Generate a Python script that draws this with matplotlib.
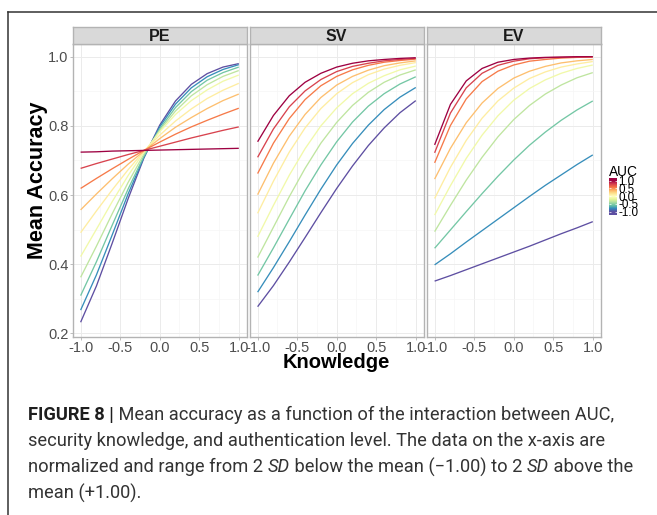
import matplotlib
matplotlib.use("Agg")
import matplotlib.pyplot as plt
import numpy as np
from matplotlib.lines import Line2D
from matplotlib.colors import Normalize

plt.rcParams['font.family'] = ['Liberation Sans', 'DejaVu Sans']

W, H = 657, 515

# ---------------- data ----------------
knowledge = [-1.0, -0.8, -0.6, -0.4, -0.2, 0.0, 0.2, 0.4, 0.6, 0.8, 1.0]
auc_levels = [1.0, 0.78, 0.56, 0.33, 0.11, -0.11, -0.33, -0.56, -0.78, -1.0]
panel_names = ["PE", "SV", "EV"]

pe_acc = [
    [0.724, 0.725, 0.727, 0.728, 0.729, 0.730, 0.731, 0.732, 0.733, 0.734, 0.735],
    [0.677, 0.691, 0.704, 0.717, 0.729, 0.741, 0.753, 0.765, 0.776, 0.787, 0.797],
    [0.619, 0.648, 0.676, 0.703, 0.729, 0.753, 0.776, 0.797, 0.816, 0.834, 0.851],
    [0.557, 0.603, 0.647, 0.689, 0.727, 0.763, 0.796, 0.824, 0.850, 0.873, 0.892],
    [0.491, 0.554, 0.615, 0.673, 0.726, 0.773, 0.814, 0.849, 0.879, 0.903, 0.923],
    [0.422, 0.501, 0.581, 0.656, 0.724, 0.783, 0.833, 0.873, 0.904, 0.929, 0.947],
    [0.362, 0.452, 0.546, 0.636, 0.718, 0.787, 0.843, 0.887, 0.919, 0.943, 0.960],
    [0.309, 0.407, 0.513, 0.617, 0.712, 0.791, 0.853, 0.899, 0.932, 0.954, 0.970],
    [0.267, 0.369, 0.485, 0.603, 0.709, 0.797, 0.863, 0.910, 0.942, 0.963, 0.977],
    [0.232, 0.337, 0.461, 0.589, 0.707, 0.802, 0.872, 0.920, 0.951, 0.970, 0.980],
]
sv_acc = [
    [0.754, 0.830, 0.887, 0.926, 0.952, 0.970, 0.981, 0.988, 0.992, 0.995, 0.997],
    [0.709, 0.791, 0.855, 0.901, 0.934, 0.957, 0.972, 0.981, 0.988, 0.992, 0.995],
    [0.662, 0.750, 0.821, 0.876, 0.916, 0.943, 0.962, 0.975, 0.984, 0.989, 0.993],
    [0.601, 0.692, 0.770, 0.833, 0.882, 0.918, 0.943, 0.961, 0.974, 0.982, 0.988],
    [0.547, 0.640, 0.724, 0.794, 0.850, 0.893, 0.925, 0.948, 0.964, 0.975, 0.983],
    [0.479, 0.570, 0.657, 0.734, 0.800, 0.852, 0.893, 0.923, 0.945, 0.962, 0.973],
    [0.419, 0.507, 0.595, 0.677, 0.750, 0.810, 0.859, 0.897, 0.926, 0.947, 0.962],
    [0.367, 0.447, 0.530, 0.612, 0.687, 0.754, 0.811, 0.857, 0.893, 0.921, 0.942],
    [0.319, 0.390, 0.465, 0.542, 0.617, 0.687, 0.749, 0.802, 0.847, 0.883, 0.911],
    [0.277, 0.338, 0.406, 0.477, 0.549, 0.619, 0.684, 0.743, 0.794, 0.838, 0.873],
]
ev_acc = [
    [0.745, 0.862, 0.930, 0.966, 0.984, 0.992, 0.996, 0.998, 0.999, 1.000, 1.000],
    [0.722, 0.837, 0.910, 0.952, 0.975, 0.987, 0.994, 0.997, 0.998, 0.999, 1.000],
    [0.693, 0.801, 0.878, 0.928, 0.958, 0.976, 0.987, 0.992, 0.996, 0.998, 0.999],
    [0.646, 0.735, 0.809, 0.866, 0.908, 0.938, 0.958, 0.972, 0.982, 0.988, 0.992],
    [0.590, 0.680, 0.758, 0.822, 0.872, 0.909, 0.937, 0.956, 0.970, 0.979, 0.986],
    [0.542, 0.627, 0.706, 0.773, 0.829, 0.874, 0.908, 0.933, 0.952, 0.966, 0.976],
    [0.494, 0.570, 0.643, 0.709, 0.768, 0.818, 0.859, 0.892, 0.918, 0.939, 0.954],
    [0.446, 0.499, 0.552, 0.604, 0.654, 0.701, 0.744, 0.782, 0.816, 0.846, 0.872],
    [0.398, 0.430, 0.464, 0.497, 0.530, 0.563, 0.596, 0.628, 0.658, 0.688, 0.716],
    [0.351, 0.367, 0.384, 0.401, 0.418, 0.435, 0.452, 0.470, 0.488, 0.505, 0.523],
]

x_ticks = [-1.0, -0.5, 0.0, 0.5, 1.0]
x_tick_labels = ["-1.0", "-0.5", "0.0", "0.5", "1.0"]
y_ticks = [0.2, 0.4, 0.6, 0.8, 1.0]
y_tick_labels = ["0.2", "0.4", "0.6", "0.8", "1.0"]
cbar_ticks = [-1.0, -0.5, 0.0, 0.5, 1.0]
cbar_labels = ["-1.0", "-0.5", "0.0", "0.5", "1.0"]

caption_lines = [
    [("FIGURE 8 |", "bold", "normal"),
     (" Mean accuracy as a function of the interaction between AUC,", "normal", "normal")],
    [("security knowledge, and authentication level. The data on the x-axis are", "normal", "normal")],
    [("normalized and range from 2 ", "normal", "normal"), ("SD", "normal", "italic"),
     (" below the mean (\u22121.00) to 2 ", "normal", "normal"), ("SD", "normal", "italic"),
     (" above the", "normal", "normal")],
    [("mean (+1.00).", "normal", "normal")],
]

# ---------------- figure ----------------
fig = plt.figure(figsize=(W / 100, H / 100), dpi=100)
fig.patch.set_facecolor("white")


def rect(l, t, w, h):
    return [l / W, 1 - (t + h) / H, w / W, h / H]


cmap = plt.get_cmap("Spectral_r")
norm = Normalize(-1, 1)

panel_data = [pe_acc, sv_acc, ev_acc]
lefts = [72.7, 249.7, 426.7]
pw, ptop, ph = 174, 44, 293
border = "#b3b3b3"

for i, (name, data, left) in enumerate(zip(panel_names, panel_data, lefts)):
    ax = fig.add_axes(rect(left, ptop, pw, ph))
    ax.set_xlim(-1.1, 1.1)
    ax.set_ylim(0.1894, 1.0367)
    ax.set_xticks(x_ticks)
    ax.set_xticklabels(x_tick_labels)
    ax.set_xticks([-0.75, -0.25, 0.25, 0.75], minor=True)
    ax.set_yticks(y_ticks)
    ax.set_yticks([0.3, 0.5, 0.7, 0.9], minor=True)
    ax.set_axisbelow(True)
    ax.grid(which="major", color="#ebebeb", lw=0.7)
    ax.grid(which="minor", color="#f5f5f5", lw=0.45)
    ax.tick_params(which="minor", length=0)
    ax.tick_params(which="major", length=2.5, width=0.6, color=border,
                   labelsize=10.5, labelcolor="#4d4d4d", pad=0.6)
    if i == 0:
        ax.set_yticklabels(y_tick_labels)
    else:
        ax.set_yticklabels([])
        ax.tick_params(axis="y", length=0)
    for sp in ax.spines.values():
        sp.set_color(border)
        sp.set_linewidth(1.0)
    for auc, ys in reversed(list(zip(auc_levels, data))):
        ax.plot(knowledge, ys, color=cmap(norm(auc)), lw=0.95, solid_capstyle="butt")

    sax = fig.add_axes(rect(left, 27.3, pw, 16.7))
    sax.set_facecolor("#d9d9d9")
    sax.set_xticks([])
    sax.set_yticks([])
    for sp in sax.spines.values():
        sp.set_color(border)
        sp.set_linewidth(1.0)
    sax.text(0.5, 0.45, name, transform=sax.transAxes, ha="center", va="center",
             fontsize=11.5, fontweight="bold", color="#1a1a1a")

# axis titles
fig.text(38 / W, 1 - 180 / H, "Mean Accuracy", rotation=90, fontsize=15.5,
         fontweight="bold", ha="center", va="center", color="black")
fig.text(336.7 / W, 1 - 363 / H, "Knowledge", fontsize=14.5, fontweight="bold",
         ha="center", va="center", color="black")

# colour bar legend
cax = fig.add_axes(rect(609, 178, 8, 37))
grad = np.linspace(-1.213, 1.174, 300).reshape(-1, 1)
cax.imshow(grad, cmap=cmap, norm=norm, aspect="auto", origin="lower",
           extent=[0, 1, -1.213, 1.174])
cax.set_ylim(-1.213, 1.174)
cax.set_xlim(0, 1)
cax.set_xticks([])
cax.set_yticks(cbar_ticks)
cax.set_yticklabels(cbar_labels)
cax.tick_params(axis="y", left=True, right=True, labelleft=False, labelright=True,
                direction="in", length=1.6, width=0.5, color="white",
                labelsize=8.4, labelcolor="black", pad=1.0)
for sp in cax.spines.values():
    sp.set_visible(False)
fig.text(609 / W, 1 - 176 / H, "AUC", fontsize=9.9, ha="left", va="baseline", color="black")

# outer frame
fig.add_artist(Line2D([8 / W, 1.0], [1 - 12 / H, 1 - 12 / H], color="#333333", lw=1.1,
                      transform=fig.transFigure))
fig.add_artist(Line2D([8 / W, 8 / W], [1 - 12 / H, 0.0], color="#333333", lw=1.1,
                      transform=fig.transFigure))

# caption
renderer = fig.canvas.get_renderer()
cap_family = ["Roboto", "Liberation Sans", "DejaVu Sans"]


def draw_line(runs, x0, ybase, fs, draw=True):
    x = x0
    arts = []
    for txt, wt, st in runs:
        color = "#1e1e1e" if wt == "bold" else "#333333"
        t = fig.text(x / W, 1 - ybase / H, txt, fontsize=fs, fontweight=wt, fontstyle=st,
                     family=cap_family, ha="left", va="baseline", color=color)
        bb = t.get_window_extent(renderer)
        x += bb.width
        arts.append(t)
    if not draw:
        for a in arts:
            a.remove()
    return x - x0


probe = draw_line(caption_lines[0], 28, 420, 10.0, draw=False)
cap_fs = 10.0 * 585.0 / probe
for k, runs in enumerate(caption_lines):
    draw_line(runs, 28, 420 + 26.2 * k, cap_fs)

fig.savefig("out.png", dpi=100, facecolor="white")
